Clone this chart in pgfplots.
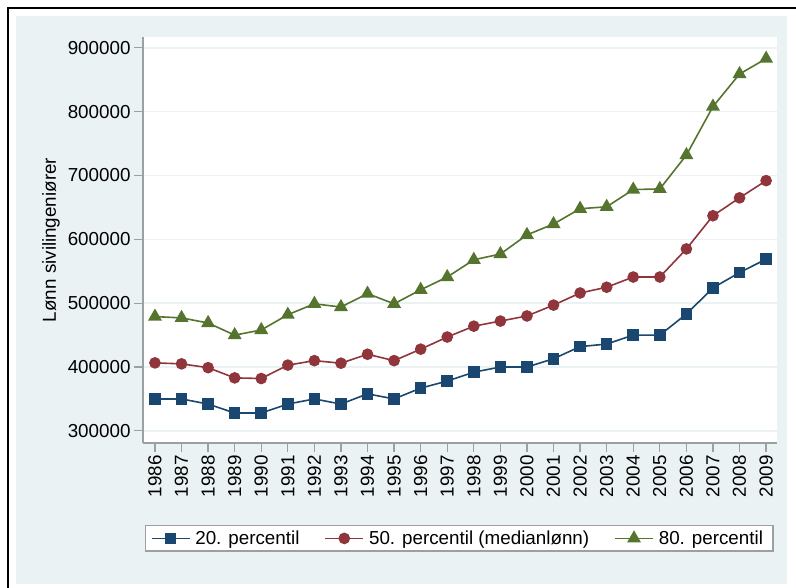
\documentclass[border=0pt]{standalone}
\usepackage{pgfplots}
\usepackage{pgfplotstable}
\pgfplotsset{compat=1.18}
\usepackage{fontspec}
\setmainfont{Liberation Sans}

\definecolor{stnavy}{RGB}{26,71,111}
\definecolor{stmaroon}{RGB}{144,53,59}
\definecolor{stgreen}{RGB}{85,117,47}
\definecolor{stbg}{RGB}{234,242,243}
\definecolor{staxis}{RGB}{155,160,162}

% lonn sivilingeniorer, percentiler
\pgfplotstableread{
year p20 p50 p80
1986 350000 406500 479000
1987 350000 405000 477000
1988 342000 399000 469000
1989 328000 383000 450000
1990 328000 382000 458000
1991 342000 403000 482000
1992 350000 410000 499000
1993 342000 406000 494000
1994 358000 420000 515000
1995 350000 410000 499000
1996 367000 428000 521000
1997 378000 447000 541000
1998 392000 464000 568000
1999 400000 472000 577000
2000 400000 480000 607000
2001 413000 497000 624000
2002 432000 516000 648000
2003 436000 525000 651000
2004 450000 541000 678000
2005 450000 541000 679000
2006 483000 585000 732000
2007 524000 637000 808000
2008 548000 665000 859000
2009 569000 692000 883000
}\lonn

\newcommand{\stfont}{\fontsize{18.8bp}{22bp}\selectfont}

\begin{document}
\begin{tikzpicture}
\useasboundingbox (0,0) rectangle (796bp,588bp);
\fill[white] (0,0) rectangle (796bp,588bp);
\fill[stbg] (16bp,4bp) rectangle (787bp,572bp);
\draw[black, line width=2.5bp] (8bp,0) -- (8bp,580bp) -- (796bp,580bp);

\begin{axis}[
  at={(143bp,145bp)}, anchor=south west,
  scale only axis,
  width=634bp, height=406bp,
  xmin=1985.55, xmax=2009.41,
  ymin=281000, ymax=917000,
  axis lines*=left,
  axis line style={staxis, line width=1.6bp},
  axis background/.style={fill=white},
  tick align=outside,
  major tick length=9bp,
  tick style={staxis, line width=1.2bp},
  xtick={1986,...,2009},
  ytick={300000,400000,...,900000},
  scaled y ticks=false,
  ymajorgrids,
  grid style={stbg, line width=1.5bp},
  /pgf/number format/assume math mode=true,
  xticklabel style={/pgf/number format/1000 sep={}, rotate=90, anchor=east, font=\stfont},
  yticklabel style={/pgf/number format/fixed, /pgf/number format/1000 sep={}, font=\stfont},
  ylabel={Lønn sivilingeniører},
  ylabel style={at={(axis description cs:-0.145,0.5)}, anchor=center, font=\stfont},
  legend columns=3,
  legend style={at={(0.499,-0.235)}, anchor=center, draw=staxis, line width=1.2bp,
    font=\stfont, inner xsep=5bp, inner ysep=3bp,
    nodes={inner xsep=5bp},
    /tikz/every even column/.append style={column sep=20bp}},
  legend image code/.code={\draw[mark repeat=2, mark phase=2, #1]
    plot coordinates {(0bp,0bp) (19bp,0bp) (38bp,0bp)};},
]
\addplot[stnavy, line width=1.6bp, mark=square*, mark size=5bp,
  mark options={solid}] table[x=year, y=p20] {\lonn};
\addlegendentry{20. percentil}
\addplot[stmaroon, line width=1.6bp, mark=*, mark size=5bp,
  mark options={solid}] table[x=year, y=p50] {\lonn};
\addlegendentry{50. percentil (medianlønn)}
\addplot[stgreen, line width=1.6bp, mark=triangle*, mark size=6.5bp,
  mark options={solid}] table[x=year, y=p80] {\lonn};
\addlegendentry{80. percentil}
\end{axis}
\end{tikzpicture}
\end{document}
